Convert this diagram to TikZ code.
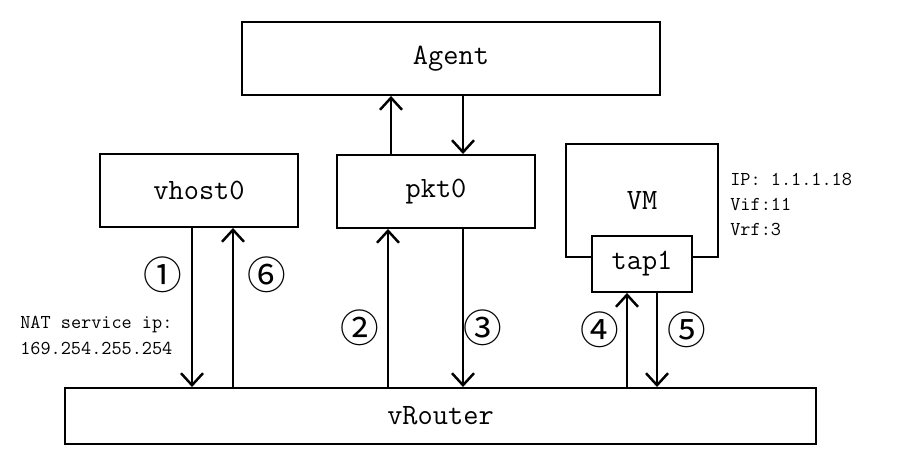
\documentclass[tikz,border=0pt]{standalone}
\usepackage{fontspec}
\newfontfamily\circfont{Noto Sans CJK SC}
\usepackage{tikz}
\usetikzlibrary{arrows.meta}
\usetikzlibrary{positioning}

\tikzset{
  box/.style={rectangle,draw=black,line width=1.1pt,fill=white,inner sep=0pt,align=center,font=\ttfamily\fontsize{16.8}{20}\selectfont},
  flow/.style={line width=1.6pt,-{Straight Barb[length=0.24cm,width=0.44cm,line width=1.4pt]}},
  num/.style={inner sep=0pt,font=\circfont\fontsize{22}{24}\selectfont},
  note/.style={align=left,inner sep=0pt,anchor=west,font=\ttfamily\fontsize{11.2}{14.4}\selectfont}
}

\begin{document}
\begin{tikzpicture}
\useasboundingbox (0,0) rectangle (18.16,9.24);
% boxes
\node at (9.02,8.07)[box,minimum width=8.36cm,minimum height=1.46cm](agent){Agent};
\node at (3.98,5.43)[box,minimum width=3.96cm,minimum height=1.46cm](vhost0){vhost0};
\node at (8.72,5.41)[box,minimum width=3.96cm,minimum height=1.46cm](pkt0){pkt0};
\node at (12.84,5.23)[box,minimum width=3.04cm,minimum height=2.26cm](vm){VM};
\node at (12.84,3.96)[box,minimum width=2.00cm,minimum height=1.12cm](tap1){tap1};
\node at (8.81,0.92)[box,minimum width=15.02cm,minimum height=1.12cm](vrouter){vRouter};
% notes
\node at (0.40,2.53)[note](nat){NAT service ip:\\169.254.255.254};
\node at (14.60,5.15)[note](vmip){IP: 1.1.1.18\\Vif:11\\Vrf:3};
% agent <-> pkt0
\draw[flow] ([xshift=-0.90cm]pkt0.north) -- ([xshift=-0.90cm]pkt0.north |- agent.south);
\draw[flow] ([xshift=0.54cm]pkt0.north |- agent.south) -- ([xshift=0.54cm]pkt0.north);
% vhost0 <-> vrouter
\draw[flow] ([xshift=-0.14cm]vhost0.south) -- ([xshift=-0.14cm]vhost0.south |- vrouter.north);
\draw[flow] ([xshift=0.68cm]vhost0.south |- vrouter.north) -- ([xshift=0.68cm]vhost0.south);
% pkt0 <-> vrouter
\draw[flow] ([xshift=-0.96cm]pkt0.south |- vrouter.north) -- ([xshift=-0.96cm]pkt0.south);
\draw[flow] ([xshift=0.54cm]pkt0.south) -- ([xshift=0.54cm]pkt0.south |- vrouter.north);
% tap1 <-> vrouter
\draw[flow] ([xshift=-0.30cm]tap1.south |- vrouter.north) -- ([xshift=-0.30cm]tap1.south);
\draw[flow] ([xshift=0.30cm]tap1.south) -- ([xshift=0.30cm]tap1.south |- vrouter.north);
% step numbers
\node at (3.26,3.74)[num](n1){①};
\node at (7.20,2.68)[num](n2){②};
\node at (9.66,2.68)[num](n3){③};
\node at (12.00,2.64)[num](n4){④};
\node at (13.74,2.64)[num](n5){⑤};
\node at (5.34,3.74)[num](n6){⑥};
\end{tikzpicture}
\end{document}
